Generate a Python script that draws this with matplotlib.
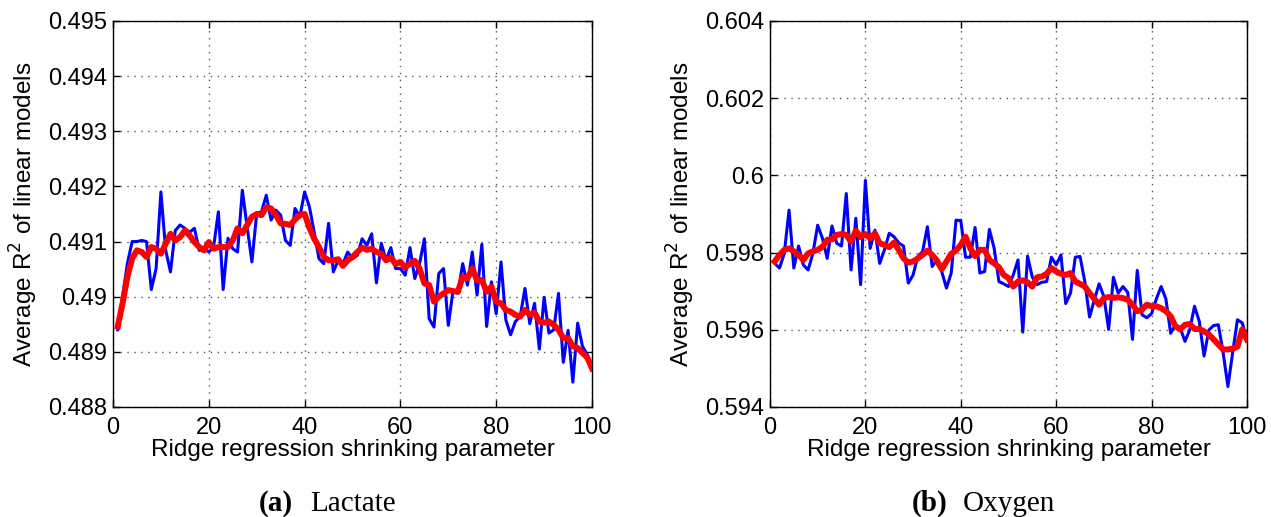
""" Ridge regression shrinkage: average R^2 of linear models (Lactate / Oxygen)
"""

import numpy as np
import matplotlib
matplotlib.use("Agg")
import matplotlib.pyplot as plt

plt.rcParams["font.family"] = ["Liberation Sans", "DejaVu Sans"]

# shrinking parameter 1..100
shrink = np.arange(1, 101)

# (a) Lactate: raw average R^2 (blue) and smoothed (red)
lactate_raw = [
    0.48940, 0.49000, 0.49060, 0.49100, 0.49100, 0.49102, 0.49100, 0.49013, 0.49051, 0.49190,
    0.49084, 0.49045, 0.49120, 0.49130, 0.49124, 0.49117, 0.49124, 0.49084, 0.49087, 0.49081,
    0.49090, 0.49154, 0.49013, 0.49106, 0.49087, 0.49081, 0.49193, 0.49127, 0.49063, 0.49151,
    0.49154, 0.49184, 0.49139, 0.49157, 0.49148, 0.49102, 0.49093, 0.49160, 0.49145, 0.49190,
    0.49163, 0.49117, 0.49069, 0.49060, 0.49133, 0.49045, 0.49066, 0.49060, 0.49081, 0.49069,
    0.49075, 0.49105, 0.49093, 0.49114, 0.49025, 0.49097, 0.49066, 0.49089, 0.49051, 0.49051,
    0.49039, 0.49089, 0.49033, 0.49060, 0.49105, 0.48960, 0.48945, 0.49042, 0.49051, 0.48948,
    0.49012, 0.49006, 0.49060, 0.49021, 0.49081, 0.49003, 0.49095, 0.48946, 0.49027, 0.48969,
    0.49063, 0.48958, 0.48931, 0.48955, 0.48964, 0.49015, 0.48951, 0.48988, 0.48905, 0.48999,
    0.48934, 0.48940, 0.49006, 0.48881, 0.48939, 0.48845, 0.48952, 0.48910, 0.48895, 0.48873,
]
lactate_smooth = [
    0.48946, 0.48988, 0.49036, 0.49069, 0.49084, 0.49081, 0.49072, 0.49090, 0.49087, 0.49078,
    0.49096, 0.49114, 0.49102, 0.49108, 0.49120, 0.49111, 0.49099, 0.49090, 0.49084, 0.49099,
    0.49087, 0.49090, 0.49090, 0.49090, 0.49102, 0.49124, 0.49115, 0.49130, 0.49145, 0.49150,
    0.49148, 0.49162, 0.49160, 0.49148, 0.49133, 0.49132, 0.49130, 0.49140, 0.49148, 0.49150,
    0.49125, 0.49105, 0.49090, 0.49072, 0.49066, 0.49066, 0.49068, 0.49056, 0.49066, 0.49072,
    0.49081, 0.49089, 0.49085, 0.49087, 0.49081, 0.49078, 0.49066, 0.49071, 0.49059, 0.49063,
    0.49053, 0.49060, 0.49065, 0.49051, 0.49024, 0.49021, 0.48991, 0.49000, 0.49006, 0.49012,
    0.49010, 0.49009, 0.49036, 0.49033, 0.49051, 0.49030, 0.49030, 0.49009, 0.49018, 0.48991,
    0.48988, 0.48976, 0.48973, 0.48967, 0.48964, 0.48976, 0.48967, 0.48971, 0.48955, 0.48953,
    0.48955, 0.48949, 0.48940, 0.48925, 0.48925, 0.48910, 0.48907, 0.48898, 0.48890, 0.48870,
]

# (b) Oxygen
oxygen_raw = [
    0.59772, 0.59760, 0.59798, 0.59910, 0.59760, 0.59817, 0.59768, 0.59755, 0.59798, 0.59871,
    0.59837, 0.59785, 0.59869, 0.59824, 0.59817, 0.59953, 0.59755, 0.59889, 0.59717, 0.59987,
    0.59811, 0.59858, 0.59772, 0.59807, 0.59850, 0.59841, 0.59825, 0.59817, 0.59721, 0.59742,
    0.59790, 0.59803, 0.59867, 0.59764, 0.59781, 0.59751, 0.59708, 0.59747, 0.59884, 0.59883,
    0.59788, 0.59788, 0.59865, 0.59747, 0.59751, 0.59860, 0.59811, 0.59725, 0.59719, 0.59712,
    0.59742, 0.59781, 0.59594, 0.59791, 0.59736, 0.59717, 0.59723, 0.59725, 0.59788, 0.59768,
    0.59794, 0.59668, 0.59695, 0.59788, 0.59790, 0.59725, 0.59633, 0.59678, 0.59719, 0.59686,
    0.59601, 0.59736, 0.59695, 0.59712, 0.59697, 0.59575, 0.59754, 0.59639, 0.59631, 0.59642,
    0.59680, 0.59712, 0.59680, 0.59591, 0.59613, 0.59605, 0.59570, 0.59600, 0.59661, 0.59622,
    0.59532, 0.59599, 0.59611, 0.59613, 0.59541, 0.59453, 0.59541, 0.59626, 0.59618, 0.59575,
]
oxygen_smooth = [
    0.59777, 0.59794, 0.59807, 0.59811, 0.59803, 0.59794, 0.59781, 0.59798, 0.59803, 0.59807,
    0.59815, 0.59833, 0.59834, 0.59846, 0.59848, 0.59846, 0.59828, 0.59857, 0.59840, 0.59848,
    0.59837, 0.59850, 0.59824, 0.59820, 0.59814, 0.59826, 0.59807, 0.59785, 0.59774, 0.59777,
    0.59785, 0.59794, 0.59805, 0.59794, 0.59779, 0.59757, 0.59777, 0.59797, 0.59805, 0.59820,
    0.59841, 0.59811, 0.59791, 0.59807, 0.59807, 0.59781, 0.59772, 0.59762, 0.59742, 0.59734,
    0.59712, 0.59725, 0.59728, 0.59723, 0.59712, 0.59736, 0.59738, 0.59745, 0.59760, 0.59751,
    0.59745, 0.59742, 0.59747, 0.59725, 0.59719, 0.59712, 0.59695, 0.59680, 0.59665, 0.59682,
    0.59685, 0.59683, 0.59684, 0.59682, 0.59678, 0.59665, 0.59648, 0.59652, 0.59665, 0.59661,
    0.59661, 0.59656, 0.59648, 0.59635, 0.59609, 0.59601, 0.59613, 0.59615, 0.59602, 0.59602,
    0.59596, 0.59588, 0.59575, 0.59562, 0.59549, 0.59549, 0.59551, 0.59556, 0.59601, 0.59575,
]

x_ticks = [0, 20, 40, 60, 80, 100]
lactate_yticks = [0.488, 0.489, 0.490, 0.491, 0.492, 0.493, 0.494, 0.495]
lactate_yticklabels = ["0.488", "0.489", "0.49", "0.491", "0.492", "0.493", "0.494", "0.495"]
oxygen_yticks = [0.594, 0.596, 0.598, 0.600, 0.602, 0.604]
oxygen_yticklabels = ["0.594", "0.596", "0.598", "0.6", "0.602", "0.604"]

panels = [
    ("(a)", "Lactate", lactate_raw, lactate_smooth, lactate_yticks, lactate_yticklabels),
    ("(b)", "Oxygen", oxygen_raw, oxygen_smooth, oxygen_yticks, oxygen_yticklabels),
]

fig = plt.figure(figsize=(12.71, 5.17), dpi=100)
axes_rects = [[0.0889, 0.2128, 0.3769, 0.7466], [0.6058, 0.2128, 0.3753, 0.7466]]
# caption positions (tag right edge, name left edge) in figure fraction
caption_x = [(0.2305, 0.2440), (0.7451, 0.7577)]
serif = ["Liberation Serif", "DejaVu Serif"]

for rect, (tx, nx), (tag, name, raw, smooth, yt, ytl) in zip(axes_rects, caption_x, panels):
    ax = fig.add_axes(rect)
    ax.plot(shrink, raw, color="#0000ff", linewidth=2.2, zorder=3)
    ax.plot(shrink, smooth, color="#ff0000", linewidth=4.3, zorder=4)

    ax.set_xlim(0, 100)
    ax.set_ylim(yt[0], yt[-1])
    ax.set_xticks(x_ticks)
    ax.set_xticklabels([str(t) for t in x_ticks])
    ax.set_yticks(yt)
    ax.set_yticklabels(ytl)
    ax.tick_params(direction="in", top=True, right=True, length=5, width=1,
                   labelsize=17)
    ax.tick_params(axis="x", pad=7)
    ax.tick_params(axis="y", pad=4)
    ax.grid(True, linestyle=(0, (1, 4)), color="#555555", linewidth=1.0)
    for s in ax.spines.values():
        s.set_linewidth(1.0)

    ax.set_xlabel("Ridge regression shrinking parameter", fontsize=17.5, labelpad=0)
    ax.set_ylabel("Average R$^2$ of linear models", fontsize=17.5, labelpad=6)

    fig.text(tx, 0.012, tag, fontsize=21, fontweight="bold",
             family=serif, ha="right", va="baseline")
    fig.text(nx, 0.012, name, fontsize=21, family=serif, ha="left", va="baseline")

plt.savefig("out.png", dpi=100)
